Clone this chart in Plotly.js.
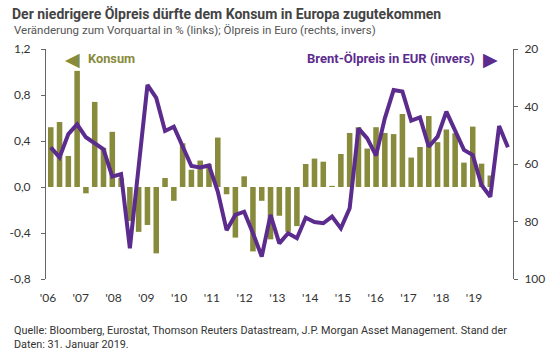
<!DOCTYPE html>
<html>
<head>
<meta charset="utf-8">
<script src="https://cdn.plot.ly/plotly-3.0.1.min.js"></script>
<style>html,body{margin:0;padding:0;background:#fff;}#chart{width:560px;height:352px;}</style>
</head>
<body>
<div id="chart"></div>
<script>
// Quarterly private consumption, % change q/q (left axis), 2006 Q1 .. 2018 Q3
const consumption = [0.52,0.565,0.27,1.01,-0.055,0.74,0.34,0.48,0.08,-0.295,
  -0.39,-0.33,-0.577,0.078,-0.12,0.38,0.15,0.23,0.2,0.43,
  -0.063,-0.44,0.093,-0.56,-0.12,-0.455,-0.25,-0.39,-0.34,0.20,
  0.247,0.22,0.01,0.287,0.47,0.52,0.334,0.52,0.47,0.46,
  0.635,0.256,0.348,0.617,0.39,0.5,0.467,0.212,0.525,0.203,0.10];
// Brent oil price in EUR (right axis, inverted), 2006 Q1 .. 2019 Q1
const brentEur = [54.2,57.7,49.6,46.2,50.7,52.6,54.9,64.4,63.5,89.3,
  62,32.5,37,48.5,47,53.5,60.7,61.2,60.5,69.6,
  83,77.7,76.6,84.1,92.2,77.7,87.6,84.1,85.8,78.7,
  80.2,80.6,78.3,82.4,75.4,47.6,51.1,57.1,44.1,34.3,
  34.8,44.9,43.8,54,50.5,41.8,48.2,55.1,56.9,67.3,
  71.4,46.8,54.2];
const startYear = 2006;
const years = [2006,2007,2008,2009,2010,2011,2012,2013,2014,2015,2016,2017,2018,2019];
const yearLabels = ["'06","'07","'08","'09","'10","'11","'12","'13","'14","'15","'16","'17","'18","'19"];
const leftTicks = [-0.8,-0.4,0,0.4,0.8,1.2];
const leftTickText = ['-0,8','-0,4','0,0','0,4','0,8','1,2'];
const rightTicks = [20,40,60,80,100];

const qx = n => Array.from({length:n}, (_, i) => startYear + (i + 0.5) / 4);

const OLIVE = '#878b3b';
const PURPLE = '#5b2c8d';
const AX = '#666';
const HEAD = 'Roboto, "Liberation Sans", Arial, sans-serif';
const TICKF = 'Lato, "Open Sans", sans-serif';

const traces = [
  {type:'bar', x: qx(consumption.length), y: consumption, marker:{color: OLIVE}, xaxis:'x', yaxis:'y', hoverinfo:'skip'},
  {type:'scatter', mode:'lines', x: qx(brentEur.length), y: brentEur, line:{color: PURPLE, width:4}, xaxis:'x', yaxis:'y2', hoverinfo:'skip'},
  // carrier for the year-label axis (no visible marks)
  {type:'scatter', mode:'markers', x: years, y: years.map(() => null), xaxis:'x2', yaxis:'y', marker:{opacity:0}, hoverinfo:'skip'}
];

const xr = [2005.99, 2019.27];
const layout = {
  width:560, height:352,
  margin:{l:46, r:47, t:49, b:73},
  paper_bgcolor:'#fff', plot_bgcolor:'#fff',
  showlegend:false, bargap:0.37,
  separators:',.',
  font:{family: TICKF, color:'#333', size:12},
  title:{text:'<b>Der niedrigere Ölpreis dürfte dem Konsum in Europa zugutekommen</b>',
    x:12/560, xref:'container', xanchor:'left', y:1-14/352, yref:'container', yanchor:'middle',
    font:{family: HEAD, size:14, color:'#444'}},
  xaxis:{range:xr, showticklabels:false, ticks:'', showline:false, showgrid:false, zeroline:false, fixedrange:true},
  xaxis2:{overlaying:'x', anchor:'y', side:'bottom', range:[2005.939, 2020.19], tickmode:'array', tickvals:years, ticktext:yearLabels,
    ticks:'', showline:false, showgrid:false, zeroline:false, ticklabelstandoff:10, tickfont:{family:TICKF, size:12, color:'#333'}},
  xaxis3:{overlaying:'x', anchor:'free', position:0.4, range:xr, tickmode:'array', tickvals:years, showticklabels:false,
    ticks:'outside', ticklen:3, tickcolor:AX, showline:true, linecolor:AX, linewidth:1, showgrid:false, zeroline:false},
  yaxis:{range:[-0.8,1.2], tickmode:'array', tickvals:leftTicks, ticktext:leftTickText, showline:true, linecolor:AX, linewidth:1,
    ticks:'outside', ticklen:4, tickcolor:AX, showgrid:false, zeroline:false, ticklabelstandoff:8, tickfont:{family:TICKF, size:12, color:'#333'}},
  yaxis2:{overlaying:'y', side:'right', anchor:'x', range:[100,20], tickmode:'array', tickvals:rightTicks, showline:true, linecolor:AX, linewidth:1,
    ticks:'outside', ticklen:4, tickcolor:AX, showgrid:false, zeroline:false, ticklabelstandoff:4, tickfont:{family:TICKF, size:12, color:'#333'}},
  annotations:[
    {text:'Veränderung zum Vorquartal in % (links); Ölpreis in Euro (rechts, invers)', xref:'paper', yref:'paper',
      x:(12-46)/467, y:(279-30)/230, xanchor:'left', yanchor:'middle', showarrow:false, font:{family:HEAD, size:11.5, color:'#555'}},
    {text:'◀', xref:'paper', yref:'paper', x:(72-46)/467, y:(279-59)/230, xanchor:'center', yanchor:'middle', showarrow:false, font:{family:'DejaVu Sans', size:19, color:OLIVE}},
    {text:'<b>Konsum</b>', xref:'paper', yref:'paper', x:(86-46)/467, y:(279-59)/230, xanchor:'left', yanchor:'middle', showarrow:false, font:{family:HEAD, size:12.8, color:OLIVE}},
    {text:'<b>Brent-Ölpreis in EUR (invers)</b>', xref:'paper', yref:'paper', x:(477-46)/467, y:(279-59)/230, xanchor:'right', yanchor:'middle', showarrow:false, font:{family:HEAD, size:13, color:PURPLE}},
    {text:'▶', xref:'paper', yref:'paper', x:(490-46)/467, y:(279-59)/230, xanchor:'center', yanchor:'middle', showarrow:false, font:{family:'DejaVu Sans', size:19, color:PURPLE}},
    {text:'Quelle: Bloomberg, Eurostat, Thomson Reuters Datastream, J.P. Morgan Asset Management. Stand der<br>Daten: 31. Januar 2019.',
      xref:'paper', yref:'paper', x:(12-46)/467, y:(279-337)/230, xanchor:'left', yanchor:'middle', align:'left', showarrow:false,
      font:{family:HEAD, size:10.85, color:'#333'}}
  ]
};
Plotly.newPlot('chart', traces, layout, {staticPlot:true, displayModeBar:false});
</script>
</body>
</html>
